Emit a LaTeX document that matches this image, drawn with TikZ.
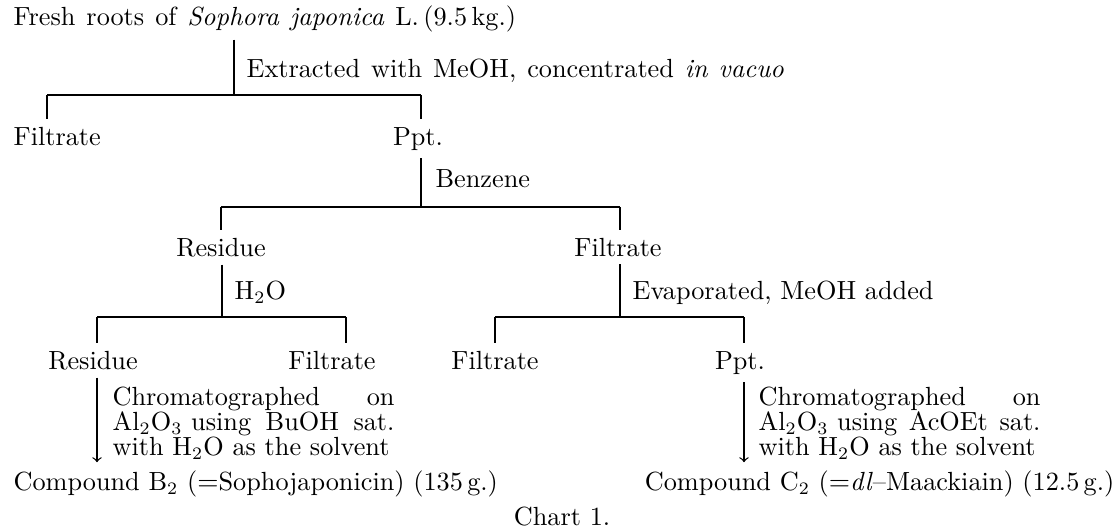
\documentclass[tikz,border=0pt]{standalone}

\newcommand{\chartfont}{\fontsize{10.5}{10}\selectfont}
\newcommand{\widespace}{\spaceskip=4.4pt plus 2pt minus 1pt\relax}
\newlength{\chromwd}
\AtBeginDocument{\settowidth{\chromwd}{\chartfont with H$_2$O as the solvent}}
\tikzset{
  txt/.style={inner xsep=0pt,inner ysep=3pt,font=\chartfont},
  lbl/.style={txt,anchor=base west},
  item/.style={txt,anchor=base},
  chrom/.style={txt,anchor=north west,inner ysep=0pt,text width=\chromwd+2pt,align=left},
}

\begin{document}
\begin{tikzpicture}[x=.4pt,y=-.4pt,line width=.5pt]
  \useasboundingbox (0,0) rectangle (1118,527);
  % products
  \node[lbl] (src) at (13,25) {\widespace Fresh roots of \textit{Sophora japonica} L.\,(9.5\,kg.)};
  \node[lbl] (filt1) at (13,145) {Filtrate};
  \node[item] (ppt1) at (418,145) {Ppt.};
  \node[item] (res1) at (221,256) {Residue};
  \node[item] (filt2) at (618,256) {Filtrate};
  \node[item] (res2) at (93,369) {Residue};
  \node[item] (filt3) at (332,369) {Filtrate};
  \node[item] (filt4) at (495,369) {Filtrate};
  \node[item] (ppt2) at (740,369) {Ppt.};
  \node[lbl] (comp1) at (13,490) {Compound B$_2$ (${=}$Sophojaponicin) (135\,g.)};
  \node[txt,anchor=base east] (comp2) at (1115,490) {Compound C$_2$ (${=}$\textit{dl}--Maackiain) (12.5\,g.)};
  % treatments
  \node[lbl] (ext) at (246,77) {\widespace Extracted with MeOH, concentrated \textit{in vacuo}};
  \node[lbl] (benz) at (435,187) {Benzene};
  \node[lbl] (wat) at (234,299) {H$_2$O};
  \node[lbl] (evap) at (632,299) {Evaporated, MeOH added};
  \node[chrom] (chroma) at (112,386)
  {Chromatographed\hfill on\\ Al$_2$O$_3$ using\hfill BuOH\hfill sat.\\ with H$_2$O as the solvent};
  \node[chrom] (chromb) at (758,386)
  {Chromatographed\hfill on\\ Al$_2$O$_3$ using\hfill AcOEt\hfill sat.\\ with H$_2$O as the solvent};
  \node[item] (cap) at (562,525) {Chart 1.};
  % branch points
  \coordinate (j1) at (234,95);
  \coordinate (j1l) at (47,95);
  \coordinate (j1r) at (421,95);
  \coordinate (j2) at (421,207);
  \coordinate (j2l) at (221,207);
  \coordinate (j2r) at (620,207);
  \coordinate (j3) at (222,317);
  \coordinate (j3l) at (97,317);
  \coordinate (j3r) at (346,317);
  \coordinate (j4) at (620,317);
  \coordinate (j4l) at (495,317);
  \coordinate (j4r) at (744,317);
  % first split
  \draw (j1 |- src.south) -- (j1);
  \draw (j1l) -- (j1r);
  \draw (j1l) -- (j1l |- filt1.north);
  \draw (j1r) -- (j1r |- ppt1.north);
  % second split
  \draw (j2 |- ppt1.south) -- (j2);
  \draw (j2l) -- (j2r);
  \draw (j2l) -- (j2l |- res1.north);
  \draw (j2r) -- (j2r |- filt2.north);
  % third splits
  \draw (j3 |- res1.south) -- (j3);
  \draw (j3l) -- (j3r);
  \draw (j3l) -- (j3l |- res2.north);
  \draw (j3r) -- (j3r |- filt3.north);
  \draw (j4 |- filt2.south) -- (j4);
  \draw (j4l) -- (j4r);
  \draw (j4l) -- (j4l |- filt4.north);
  \draw (j4r) -- (j4r |- ppt2.north);
  % columns
  \draw[->] (j3l |- res2.south) -- (j3l |- comp1.north);
  \draw[->] (j4r |- ppt2.south) -- (j4r |- comp2.north);
\end{tikzpicture}
\end{document}
